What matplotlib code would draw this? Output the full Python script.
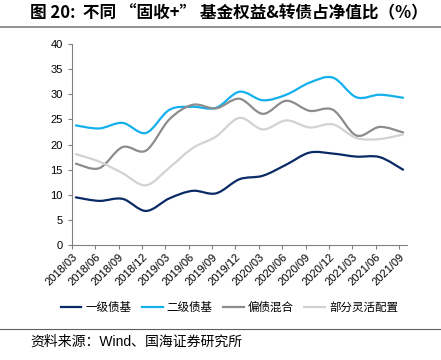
import numpy as np
import matplotlib.pyplot as plt
from matplotlib.path import Path
from matplotlib.patches import PathPatch
from matplotlib.lines import Line2D

plt.rcParams['font.family'] = ['Liberation Sans', 'Noto Sans CJK SC', 'DejaVu Sans']

dates = ['2018/03', '2018/06', '2018/09', '2018/12', '2019/03', '2019/06', '2019/09',
         '2019/12', '2020/03', '2020/06', '2020/09', '2020/12', '2021/03', '2021/06', '2021/09']

yiji = [9.5, 8.8, 9.2, 6.8, 9.3, 10.8, 10.3, 13.1, 13.8, 16.0, 18.4, 18.2, 17.6, 17.5, 15.0]
erji = [23.8, 23.2, 24.3, 22.3, 26.9, 27.5, 27.3, 30.5, 28.8, 29.9, 32.3, 33.3, 29.4, 29.9, 29.3]
piandai = [16.2, 15.3, 19.5, 18.8, 25.0, 27.9, 27.2, 29.1, 26.1, 28.7, 26.7, 26.9, 21.8, 23.5, 22.4]
linghuo = [18.1, 16.6, 14.3, 11.9, 15.4, 19.3, 21.6, 25.3, 23.0, 24.8, 23.4, 24.0, 21.3, 21.1, 22.0]

names = ['一级债基', '二级债基', '偏债混合', '部分灵活配置']
colors = ['#0a2a66', '#14b0ee', '#8c8c8c', '#d2d2d2']
series = [yiji, erji, piandai, linghuo]


def smooth_path(y):
    # Excel-style smoothed line: cubic bezier through each point
    x = np.arange(len(y), dtype=float)
    y = np.asarray(y, dtype=float)
    n = len(y)
    verts = [(x[0], y[0])]
    codes = [Path.MOVETO]
    for i in range(n - 1):
        p0 = max(i - 1, 0)
        p3 = min(i + 2, n - 1)
        c1 = (x[i] + (x[i + 1] - x[p0]) / 6, y[i] + (y[i + 1] - y[p0]) / 6)
        c2 = (x[i + 1] - (x[p3] - x[i]) / 6, y[i + 1] - (y[p3] - y[i]) / 6)
        verts += [c1, c2, (x[i + 1], y[i + 1])]
        codes += [Path.CURVE4] * 3
    return Path(verts, codes)


fig = plt.figure(figsize=(4.41, 3.6), dpi=100)
ax = fig.add_axes([0.163, 0.319, 0.76, 0.559])

for vals, c in zip(series, colors):
    ax.add_patch(PathPatch(smooth_path(vals), facecolor='none', edgecolor=c, lw=1.6,
                           capstyle='round', joinstyle='round'))

ax.set_xlim(-0.17, 14.17)
ax.set_ylim(0, 40)
ax.set_yticks(range(0, 41, 5))
ax.set_xticks(np.arange(len(dates)) - 0.17)
ax.set_xticklabels(dates, rotation=45, ha='right', rotation_mode='anchor')
ax.tick_params(axis='both', labelsize=8, length=3, color='#808080', width=0.8)
ax.tick_params(axis='x', pad=2)
for s in ['top', 'right']:
    ax.spines[s].set_visible(False)
for s in ['left', 'bottom']:
    ax.spines[s].set_color('#808080')
    ax.spines[s].set_linewidth(0.8)

handles = [Line2D([], [], color=c, lw=1.6) for c in colors]
fig.legend(handles, names, loc='center', bbox_to_anchor=(0.52, 0.147), ncol=4,
           frameon=False, handlelength=1.8, handletextpad=0.35,
           columnspacing=0.9, prop={'family': ['Noto Sans CJK SC'], 'size': 8.3})

fig.text(0.068, 0.962, '图 20:  不同 “固收+” 基金权益&转债占净值比（%）', fontsize=12,
         fontweight='bold', va='center', family=['Noto Sans CJK SC'])
fig.add_artist(Line2D([0, 1], [0.925, 0.925], color='#808080', lw=1.2, transform=fig.transFigure))
fig.add_artist(Line2D([0, 1], [0.087, 0.087], color='#606060', lw=0.8, transform=fig.transFigure))
fig.text(0.068, 0.05, '资料来源：Wind、国海证券研究所', fontsize=10, va='center',
         family=['Liberation Sans', 'Noto Sans CJK SC'])

fig.savefig('out.png', dpi=100)
